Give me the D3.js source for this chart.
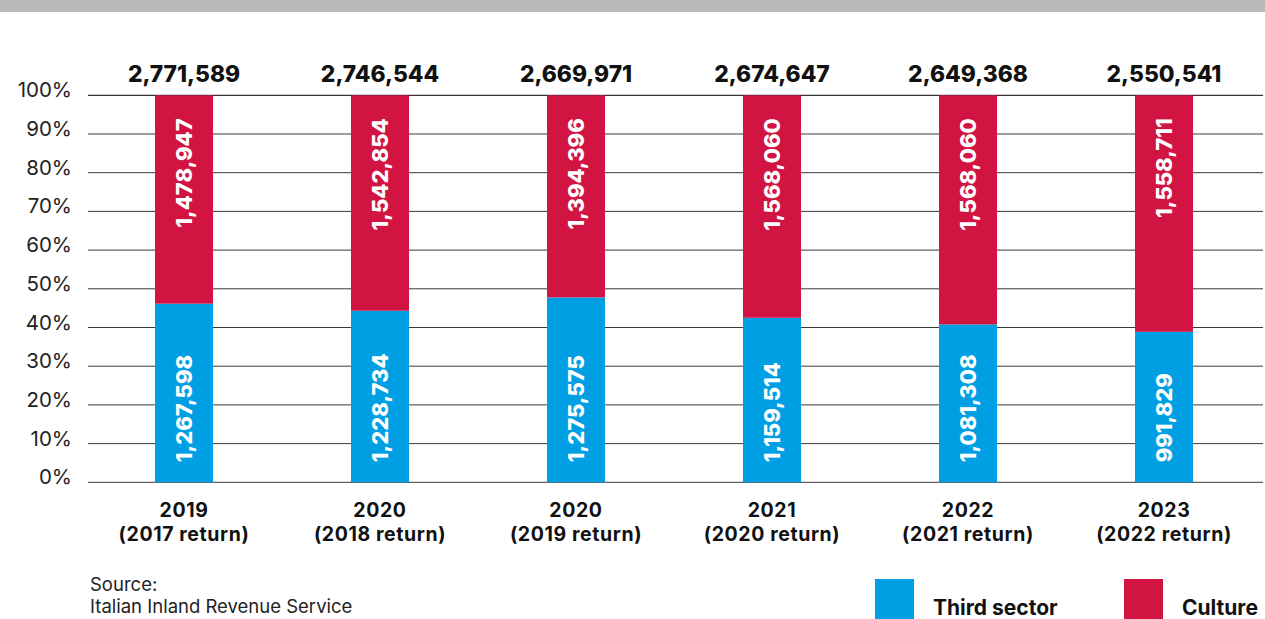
<!DOCTYPE html>
<html>
<head>
<meta charset="utf-8">
<script src="https://cdn.jsdelivr.net/npm/d3@7"></script>
<style>
  html, body { margin: 0; padding: 0; background: #fff; }
  svg { display: block; }
  text { font-family: Inter, "Noto Sans", sans-serif; }
</style>
</head>
<body>
<script>
// Taxpayer choices by filing year: Third sector vs Culture
const years = ["2019", "2020", "2020", "2021", "2022", "2023"];
const returns = ["(2017 return)", "(2018 return)", "(2019 return)", "(2020 return)", "(2021 return)", "(2022 return)"];
const totals = [2771589, 2746544, 2669971, 2674647, 2649368, 2550541];
const thirdSector = [1267598, 1228734, 1275575, 1159514, 1081308, 991829];
const culture = [1478947, 1542854, 1394396, 1568060, 1568060, 1558711];
const yTicks = [0, 10, 20, 30, 40, 50, 60, 70, 80, 90, 100];
const seriesNames = ["Third sector", "Culture"];

const W = 1265, H = 619;
const BLUE = "#009fe3", RED = "#d11442";
const fmt = d3.format(",");

const svg = d3.select("body").append("svg").attr("width", W).attr("height", H);

// grey band across the top
svg.append("rect").attr("x", 0).attr("y", 0).attr("width", W).attr("height", 12).attr("fill", "#bababa");

const keys = years.map((d, i) => i);
const x = d3.scalePoint().domain(keys).range([86, 1262]).padding(0.5);
const y = d3.scaleLinear().domain([0, 100]).range([482.3, 95.3]);
const barW = 58;

// gridlines + percentage labels
const grid = svg.append("g");
grid.selectAll("line").data(yTicks).join("line")
  .attr("x1", 88).attr("x2", 1263)
  .attr("y1", d => y(d)).attr("y2", d => y(d))
  .attr("stroke", d => d === 100 ? "#000" : "#3a3a3a").attr("stroke-width", 1);
grid.selectAll("text").data(yTicks).join("text")
  .attr("x", 72).attr("y", d => y(d) + 2)
  .attr("text-anchor", "end")
  .attr("font-size", 20.5).attr("fill", "#222")
  .text(d => d + "%");

// stacked shares
const rows = keys.map(i => {
  const sum = thirdSector[i] + culture[i];
  return { i, third: thirdSector[i] / sum * 100, cult: culture[i] / sum * 100 };
});

const bars = svg.append("g");
bars.selectAll("rect.third").data(rows).join("rect").attr("class", "third")
  .attr("x", d => x(d.i) - barW / 2).attr("width", barW)
  .attr("y", d => y(d.third)).attr("height", d => y(0) - y(d.third))
  .attr("fill", BLUE);
bars.selectAll("rect.cult").data(rows).join("rect").attr("class", "cult")
  .attr("x", d => x(d.i) - barW / 2).attr("width", barW)
  .attr("y", d => y(100)).attr("height", d => y(d.third) - y(100))
  .attr("fill", RED);

// value labels inside bars (rotated)
bars.selectAll("text.tv").data(rows).join("text").attr("class", "tv")
  .attr("transform", d => `translate(${x(d.i) + 8},${y(0) - 20}) rotate(-90)`)
  .attr("text-anchor", "start")
  .attr("font-size", 22).attr("font-weight", 800).attr("fill", "#fff")
  .text(d => fmt(thirdSector[d.i]));
bars.selectAll("text.cv").data(rows).join("text").attr("class", "cv")
  .attr("transform", d => `translate(${x(d.i) + 8},${y(100) + 23}) rotate(-90)`)
  .attr("text-anchor", "end")
  .attr("font-size", 22).attr("font-weight", 800).attr("fill", "#fff")
  .text(d => fmt(culture[d.i]));

// totals above bars
svg.append("g").selectAll("text").data(keys).join("text")
  .attr("x", d => x(d)).attr("y", 82)
  .attr("text-anchor", "middle")
  .attr("font-size", 22.8).attr("font-weight", 800).attr("fill", "#111")
  .text(d => fmt(totals[d]));

// category labels (two lines)
const catG = svg.append("g")
  .attr("text-anchor", "middle")
  .attr("font-size", 19.5).attr("font-weight", 700).attr("fill", "#111")
  .attr("letter-spacing", 0.6);
catG.selectAll("text.yr").data(keys).join("text").attr("class", "yr")
  .attr("x", d => x(d)).attr("y", 517).text(d => years[d]);
catG.selectAll("text.rt").data(keys).join("text").attr("class", "rt")
  .attr("x", d => x(d)).attr("y", 541).text(d => returns[d]);

// source note
const src = svg.append("g").attr("font-size", 18.5).attr("fill", "#222");
src.append("text").attr("x", 90).attr("y", 591).text("Source:");
src.append("text").attr("x", 90).attr("y", 613).text("Italian Inland Revenue Service");

// legend
const legend = svg.append("g");
const legendX = [875, 1124];
const legendColors = [BLUE, RED];
legend.selectAll("rect").data(seriesNames).join("rect")
  .attr("x", (d, i) => legendX[i]).attr("y", 579).attr("width", 39).attr("height", 40)
  .attr("fill", (d, i) => legendColors[i]);
legend.selectAll("text").data(seriesNames).join("text")
  .attr("x", (d, i) => legendX[i] + 58).attr("y", 615)
  .attr("font-size", 21).attr("font-weight", 700).attr("fill", "#111")
  .text(d => d);
</script>
</body>
</html>
